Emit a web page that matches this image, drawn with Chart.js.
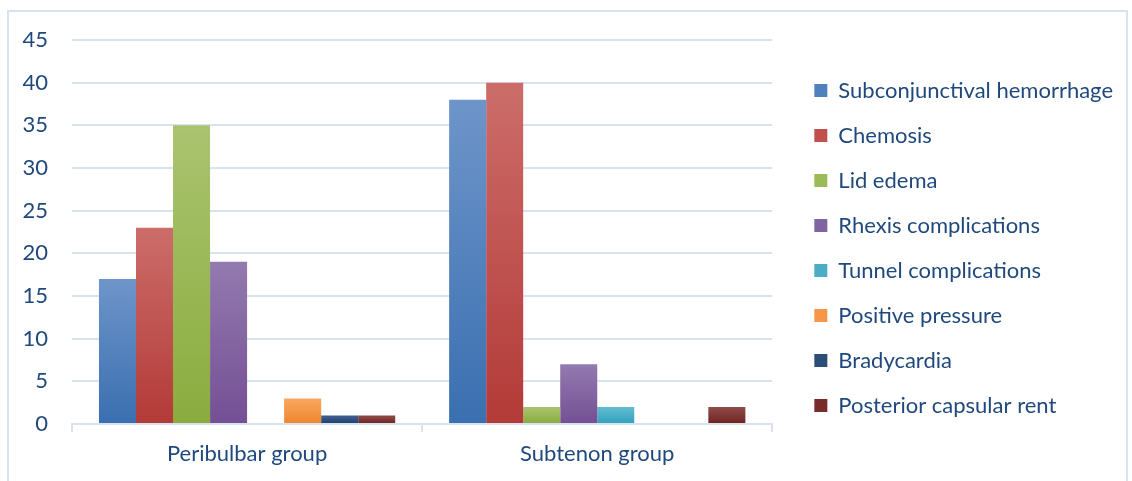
<!DOCTYPE html>
<html>
<head>
<meta charset="utf-8">
<script src="https://cdn.jsdelivr.net/npm/chart.js@4"></script>
<style>
  html, body { margin: 0; padding: 0; background: #fff; }
  #wrap { width: 1132px; height: 481px; position: relative; }
</style>
</head>
<body>
<div id="wrap"><canvas id="chart"></canvas></div>
<script>
const groups = ['Peribulbar group', 'Subtenon group'];
const seriesNames = [
  'Subconjunctival hemorrhage', 'Chemosis', 'Lid edema', 'Rhexis complications',
  'Tunnel complications', 'Positive pressure', 'Bradycardia', 'Posterior capsular rent'
];
const subconjunctival = [17, 38];
const chemosis = [23, 40];
const lidEdema = [35, 2];
const rhexis = [19, 7];
const tunnel = [0, 2];
const positivePressure = [3, 0];
const bradycardia = [1, 0];
const capsularRent = [1, 2];
const yTicks = [0, 5, 10, 15, 20, 25, 30, 35, 40, 45];

// top / bottom / legend shades, office-2007 style
const shades = [
  ['#6E95CA', '#3A6FB0', '#4F81BD'],
  ['#CC6D6A', '#B33A37', '#C0504D'],
  ['#AAC46F', '#8AAC3E', '#9BBB59'],
  ['#937AAF', '#744F94', '#8064A2'],
  ['#62BCD2', '#32A0BC', '#4BACC6'],
  ['#FBA760', '#EE852C', '#F79646'],
  ['#41628F', '#1F3F6C', '#2C4D75'],
  ['#904C4A', '#6E2220', '#772C2A'],
];
const values = [subconjunctival, chemosis, lidEdema, rhexis, tunnel, positivePressure, bradycardia, capsularRent];

const textColor = '#1F497D';
const gridColor = '#D9E2F1';
const font = 'Lato';

function barFill(i) {
  return (ctx) => {
    const chart = ctx.chart;
    const y = chart.scales.y;
    if (!chart.chartArea || !y || ctx.parsed == null) return shades[i][2];
    const top = y.getPixelForValue(ctx.parsed.y);
    const base = y.getPixelForValue(0);
    if (!isFinite(top) || base - top < 1) return shades[i][2];
    const g = chart.ctx.createLinearGradient(0, top, 0, base);
    g.addColorStop(0, shades[i][0]);
    g.addColorStop(1, shades[i][1]);
    return g;
  };
}

const outline = {
  id: 'outline',
  beforeDraw(chart) {
    const c = chart.ctx;
    c.save();
    c.strokeStyle = gridColor;
    c.lineWidth = 2;
    c.strokeRect(8, 11, 1119, 471);
    c.restore();
  }
};

const blankAxis = (pos, size) => ({
  position: pos,
  display: true,
  grid: { display: false },
  border: { display: false },
  ticks: { display: false },
  afterFit: (s) => { if (pos === 'top') s.height = size; else s.width = size; },
});

new Chart(document.getElementById('chart'), {
  type: 'bar',
  data: {
    labels: groups,
    datasets: seriesNames.map((name, i) => ({
      label: name,
      data: values[i],
      backgroundColor: barFill(i),
      borderWidth: 0,
      categoryPercentage: 0.846,
      barPercentage: 1,
    })),
  },
  options: {
    responsive: true,
    maintainAspectRatio: false,
    animation: false,
    layout: { padding: { top: 26, bottom: 11, left: 0, right: 9 } },
    scales: {
      x: {
        offset: true,
        grid: { offset: true, drawOnChartArea: false, drawTicks: true, tickLength: 8, color: gridColor, lineWidth: 2 },
        border: { display: true, color: gridColor, width: 2 },
        ticks: { color: textColor, font: { family: font, size: 22 }, padding: 9 },
        afterFit: (s) => { s.height = 46; },
      },
      y: {
        min: 0,
        max: 45,
        afterBuildTicks: (s) => { s.ticks = yTicks.map(v => ({ value: v })); },
        grid: { drawTicks: false, color: (c) => c.tick.value === 0 ? 'rgba(0,0,0,0)' : gridColor, lineWidth: 2 },
        border: { display: false },
        ticks: { color: textColor, font: { family: font, size: 22 }, padding: 24 },
        afterFit: (s) => { s.width = 72; },
      },
      gapTop: blankAxis('top', 14),
      gapRight: blankAxis('right', 19),
    },
    plugins: {
      legend: {
        position: 'right',
        align: 'center',
        maxWidth: 420,
        labels: {
          color: textColor,
          font: { family: font, size: 22 },
          boxWidth: 13,
          boxHeight: 13,
          padding: 23,
          generateLabels: (chart) => chart.data.datasets.map((ds, i) => ({
            text: ds.label,
            fillStyle: shades[i][2],
            strokeStyle: shades[i][2],
            lineWidth: 0,
            fontColor: textColor,
            datasetIndex: i,
            hidden: false,
          })),
        },
      },
      tooltip: { enabled: false },
    },
  },
  plugins: [outline],
});
</script>
</body>
</html>
